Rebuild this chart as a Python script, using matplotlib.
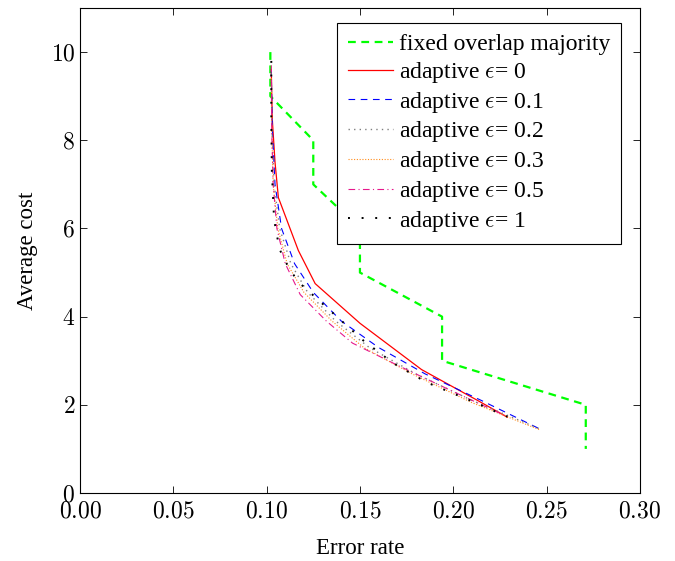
import matplotlib
matplotlib.use("Agg")
import matplotlib.pyplot as plt
from matplotlib.ticker import FuncFormatter

plt.rcParams['font.family'] = ['Liberation Serif', 'DejaVu Serif']
plt.rcParams['mathtext.fontset'] = 'cm'

# fixed overlap majority
fixed_x = [0.102, 0.102, 0.125, 0.125, 0.150, 0.150, 0.194, 0.194, 0.271, 0.271]
fixed_y = [10, 9, 8, 7, 6, 5, 4, 3, 2, 1]

# adaptive, per epsilon
eps0_x = [0.1025, 0.1030, 0.1045, 0.1063, 0.1170, 0.1260, 0.1500, 0.1830, 0.2130, 0.2290]
eps0_y = [9.6, 8.5, 7.5, 6.7, 5.5, 4.75, 3.85, 2.8, 2.1, 1.72]

eps01_x = [0.1025, 0.1030, 0.1045, 0.1080, 0.1150, 0.1250, 0.1400, 0.1600, 0.1850, 0.2150, 0.2465]
eps01_y = [9.6, 8.3, 7.0, 6.0, 5.2, 4.55, 3.9, 3.3, 2.7, 2.1, 1.45]

eps02_x = [0.1025, 0.1028, 0.1040, 0.1070, 0.1130, 0.1220, 0.1370, 0.1550, 0.1800, 0.2100, 0.2465]
eps02_y = [9.5, 8.3, 7.0, 6.0, 5.2, 4.55, 3.9, 3.3, 2.7, 2.1, 1.45]

eps03_x = [0.1025, 0.1027, 0.1035, 0.1060, 0.1110, 0.1200, 0.1350, 0.1520, 0.1780, 0.2100, 0.2465]
eps03_y = [9.6, 8.3, 7.0, 6.0, 5.2, 4.55, 3.9, 3.3, 2.7, 2.05, 1.43]

eps05_x = [0.1025, 0.1027, 0.1035, 0.1055, 0.1100, 0.1180, 0.1320, 0.1460, 0.1700, 0.2000, 0.2290]
eps05_y = [9.7, 8.3, 7.0, 6.0, 5.2, 4.5, 3.9, 3.4, 2.9, 2.3, 1.73]

eps1_x = [0.1025, 0.1025, 0.1028, 0.1040, 0.1068, 0.1093, 0.1164, 0.1366, 0.1518, 0.1680, 0.1857, 0.2107, 0.2290]
eps1_y = [9.8, 8.5, 7.3, 6.2, 5.55, 5.3, 4.81, 4.04, 3.46, 2.94, 2.51, 2.07, 1.73]

fig = plt.figure(figsize=(6.75, 5.61), dpi=100)
ax = fig.add_axes([0.1185, 0.1212, 0.8295, 0.8645])

ax.plot(fixed_x, fixed_y, color=(0, 1, 0), ls=(0, (3.5, 2.5)), lw=1.6, label='fixed overlap majority')
ax.plot(eps0_x, eps0_y, color='red', lw=0.9, label=r'adaptive $\epsilon$= 0')
ax.plot(eps01_x, eps01_y, color='blue', lw=0.8, ls=(0, (6, 5)), label=r'adaptive $\epsilon$= 0.1')
ax.plot(eps02_x, eps02_y, color='gray', lw=1.0, ls=(0, (1, 3)), label=r'adaptive $\epsilon$= 0.2')
ax.plot(eps03_x, eps03_y, color='#ff8c1a', lw=0.8, ls=(0, (1, 1.5)), label=r'adaptive $\epsilon$= 0.3')
ax.plot(eps05_x, eps05_y, color='#e6198c', lw=0.8, ls=(0, (6, 3, 1, 3)), label=r'adaptive $\epsilon$= 0.5')
ax.plot(eps1_x, eps1_y, color='black', lw=1.4, ls=(0, (1, 6)), label=r'adaptive $\epsilon$= 1')

ax.set_xlim(0, 0.30)
ax.set_ylim(0, 11)
ax.set_xticks([0.00, 0.05, 0.10, 0.15, 0.20, 0.25, 0.30])
ax.set_yticks([0, 2, 4, 6, 8, 10])
ax.xaxis.set_major_formatter(FuncFormatter(lambda v, p: r'$%.2f$' % v))
ax.yaxis.set_major_formatter(FuncFormatter(lambda v, p: r'$%d$' % v))
ax.tick_params(direction='in', top=True, right=True, labelsize=17, length=5, width=0.6)
ax.tick_params(axis='x', pad=6)
for s in ax.spines.values():
    s.set_linewidth(0.8)

ax.set_xlabel('Error rate', fontsize=16.5, labelpad=11)
ax.set_ylabel('Average cost', fontsize=16.5, labelpad=9)

leg = ax.legend(loc='upper right', bbox_to_anchor=(0.966, 0.969), fontsize=17,
                frameon=True, fancybox=False, edgecolor='black', framealpha=1,
                handlelength=1.9, borderaxespad=0, borderpad=0.45,
                labelspacing=0.2, handletextpad=0.25)
leg.get_frame().set_linewidth(0.8)

fig.savefig('out.png', dpi=100)
